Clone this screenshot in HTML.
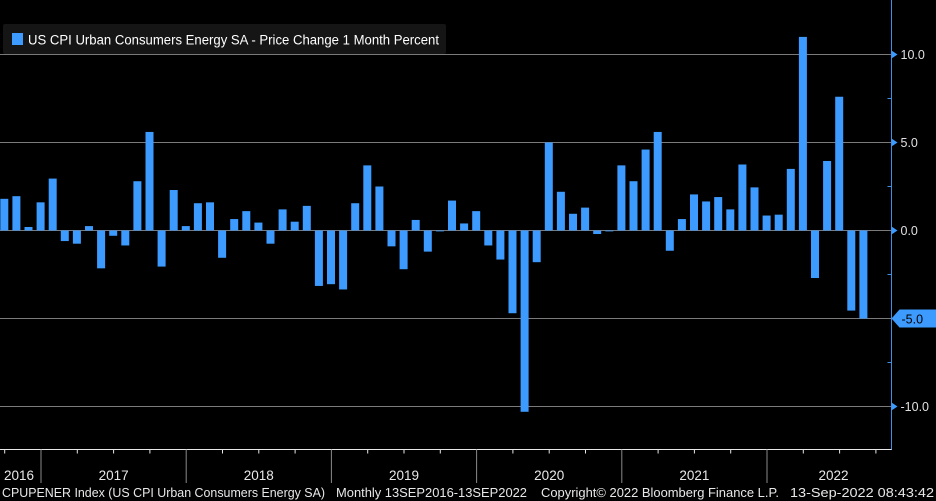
<!DOCTYPE html>
<html><head><meta charset="utf-8"><style>
html,body{margin:0;padding:0;background:#000;}
svg{display:block;font-family:"Liberation Sans",sans-serif;}
</style></head><body>
<svg width="936" height="501" viewBox="0 0 936 501">
<rect x="0" y="0" width="936" height="501" fill="#000"/>
<g id="grid"></g>
<g id="bars"></g>
<g id="yaxis"></g>
<g id="xaxis"></g>
<g>
<rect x="3" y="24" width="443" height="30" fill="#151515" rx="2"/>
<rect x="12" y="33" width="11" height="12" fill="#3d9bff"/>
<text x="28" y="44.5" fill="#fff" font-size="13.5" textLength="411" lengthAdjust="spacingAndGlyphs">US CPI Urban Consumers Energy SA - Price Change 1 Month Percent</text>
</g>
<g>
<text x="2" y="497" fill="#e8e8e8" font-size="12.5" textLength="323" lengthAdjust="spacingAndGlyphs">CPUPENER Index (US CPI Urban Consumers Energy SA)</text>
<text x="336" y="497" fill="#e8e8e8" font-size="12.5" textLength="191" lengthAdjust="spacingAndGlyphs">Monthly 13SEP2016-13SEP2022</text>
<text x="541" y="497" fill="#e8e8e8" font-size="12.5" textLength="238" lengthAdjust="spacingAndGlyphs">Copyright© 2022 Bloomberg Finance L.P.</text>
<text x="790" y="497" fill="#e8e8e8" font-size="12.5" textLength="144" lengthAdjust="spacingAndGlyphs">13-Sep-2022 08:43:42</text>
</g>
</svg>
<script>
const months = ["2016-09","2016-10","2016-11","2016-12","2017-01","2017-02","2017-03","2017-04","2017-05","2017-06","2017-07","2017-08","2017-09","2017-10","2017-11","2017-12","2018-01","2018-02","2018-03","2018-04","2018-05","2018-06","2018-07","2018-08","2018-09","2018-10","2018-11","2018-12","2019-01","2019-02","2019-03","2019-04","2019-05","2019-06","2019-07","2019-08","2019-09","2019-10","2019-11","2019-12","2020-01","2020-02","2020-03","2020-04","2020-05","2020-06","2020-07","2020-08","2020-09","2020-10","2020-11","2020-12","2021-01","2021-02","2021-03","2021-04","2021-05","2021-06","2021-07","2021-08","2021-09","2021-10","2021-11","2021-12","2022-01","2022-02","2022-03","2022-04","2022-05","2022-06","2022-07","2022-08"];
const values = [1.8,1.95,0.2,1.6,2.95,-0.6,-0.75,0.25,-2.15,-0.3,-0.85,2.8,5.6,-2.05,2.3,0.25,1.55,1.6,-1.55,0.65,1.1,0.45,-0.75,1.2,0.5,1.4,-3.15,-3.05,-3.35,1.55,3.7,2.5,-0.9,-2.2,0.6,-1.2,-0.05,1.7,0.4,1.1,-0.85,-1.65,-4.7,-10.3,-1.8,5.0,2.2,0.95,1.3,-0.2,-0.05,3.7,2.8,4.6,5.6,-1.15,0.65,2.05,1.65,1.9,1.2,3.75,2.45,0.85,0.9,3.5,11.0,-2.7,3.95,7.6,-4.55,-5.0];
const yTicks = [10,5,0,-5,-10];
const yTickLabels = ["10.0","5.0","0.0","-5.0","-10.0"];
const minorTicks = [7.5,2.5,-2.5,-7.5];
const years = ["2016","2017","2018","2019","2020","2021","2022"];
const lastValueLabel = "-5.0";

const NS = "http://www.w3.org/2000/svg";
const y0 = 230.5, pxPerUnit = 17.6;
function yScale(v){ return y0 - v*pxPerUnit; }
const step = 12.1, x0 = 4.3;
function xScale(i){ return x0 + i*step; }
const axisX = 891.5;
function mk(tag, attrs, parent){ const e=document.createElementNS(NS,tag); for(const k in attrs) e.setAttribute(k,attrs[k]); parent.appendChild(e); return e; }

const grid = document.getElementById('grid');
yTicks.forEach(t=>{
  const l = mk('line',{x1:0,x2:axisX,y1:yScale(t),y2:yScale(t),stroke:'#7a7a7a','stroke-width':1},grid);
  
  
});

const bars = document.getElementById('bars');
values.forEach((v,i)=>{
  const top = Math.min(yScale(v), y0), h = Math.abs(yScale(v)-y0);
  const r = mk('rect',{x:xScale(i)-4,y:top,width:8,height:Math.max(h,0.5),fill:'#3d9bff'},bars);
  
  
});

const ya = document.getElementById('yaxis');
const al = mk('line',{x1:axisX,x2:axisX,y1:0,y2:450,stroke:'#3d8fe0','stroke-width':1},ya);


minorTicks.forEach(t=>{
  const m = mk('line',{x1:axisX-4,x2:axisX,y1:yScale(t),y2:yScale(t),stroke:'#3d8fe0'},ya);
  
  
});
yTicks.forEach((t,k)=>{
  const y = yScale(t);
  if (yTickLabels[k] === lastValueLabel) return;
  const p = mk('polygon',{points:`${axisX},${y-4} ${axisX+6},${y} ${axisX},${y+4}`,fill:'#3d9bff'},ya);
  
  
  const tx = mk('text',{x:axisX+9,y:y+4.5,fill:'#e0e0e0','font-size':12.5},ya);
  tx.textContent = yTickLabels[k];
  
  
});
{
  const y = yScale(values[values.length-1]);
  const p = mk('polygon',{points:`${axisX},${y} ${axisX+8},${y-9} 936,${y-9} 936,${y+9} ${axisX+8},${y+9}`,fill:'#3d9bff'},ya);
  
  
  const tx = mk('text',{x:axisX+10,y:y+5,fill:'#000','font-size':12.5},ya);
  tx.textContent = lastValueLabel;
  
  
}

const xa = document.getElementById('xaxis');
const xl = mk('line',{x1:0,x2:axisX,y1:449.5,y2:449.5,stroke:'#e8e8e8','stroke-width':1},xa);


const yearStart = xScale(4) - 11.7;
for(let q=-1;q<24;q++){
  const x = yearStart + q*step*3;
  if (x<0 || x>axisX) continue;
  const isYear = (q%4===0);
  const t = mk('line',{x1:x,x2:x,y1:449.5,y2:isYear?483:453.5,stroke:isYear?'#8a8a8a':'#e8e8e8'},xa);
  
  
}
years.forEach((yr,k)=>{
  let cx;
  if (k===0) cx = 19; else cx = yearStart + (k-1)*step*12 + step*6;
  if (k===years.length-1) cx = yearStart + (k-1)*step*12 + step*5.5;
  const tx = mk('text',{x:cx,y:480,fill:'#e8e8e8','font-size':13.5,'text-anchor':'middle'},xa);
  tx.textContent = yr;
  
  
});
</script>
</body></html>
